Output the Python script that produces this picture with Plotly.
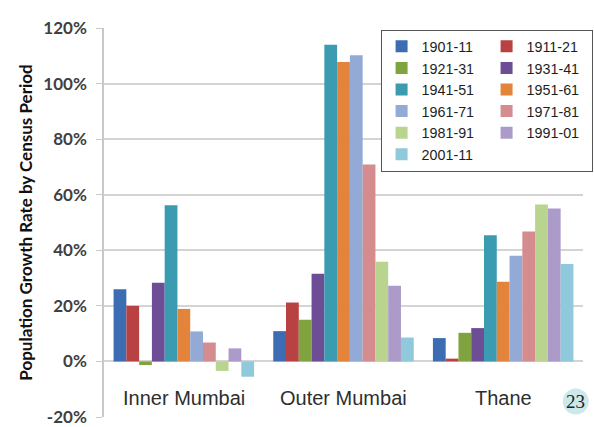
import plotly.graph_objects as go

# Census periods and regions
periods = ["1901-11", "1911-21", "1921-31", "1931-41", "1941-51", "1951-61",
           "1961-71", "1971-81", "1981-91", "1991-01", "2001-11"]
regions = ["Inner Mumbai", "Outer Mumbai", "Thane"]

# Growth rate (%) per period, one list per region
inner_mumbai = [26.0, 20.0, -1.3, 28.3, 56.2, 18.9, 10.8, 6.8, -3.4, 4.7, -5.5]
outer_mumbai = [10.9, 21.2, 15.0, 31.6, 114.0, 107.8, 110.2, 70.9, 35.9, 27.2, 8.6]
thane = [8.4, 1.0, 10.3, 12.0, 45.4, 28.7, 38.0, 46.8, 56.5, 55.0, 35.1]

y_ticks = [-20, 0, 20, 40, 60, 80, 100, 120]
y_tick_labels = [f"{v}%" for v in y_ticks]

colors = ["#3C6DB3", "#B84241", "#7FA43F", "#6D4E96", "#3A9BB1", "#E3843A",
          "#93A9D6", "#D48C8E", "#B9D48F", "#AC9BC9", "#8FC9DB"]

fig = go.Figure()
for i, p in enumerate(periods):
    fig.add_trace(go.Bar(
        name=p,
        x=regions,
        y=[inner_mumbai[i], outer_mumbai[i], thane[i]],
        marker=dict(color=colors[i], line=dict(width=0)),
    ))

label_font = dict(family="Liberation Sans, Arial", size=20, color="#2E2E2E")
annotations = [
    dict(x=r, y=-13.2, xref="x", yref="y", text=r, showarrow=False,
         font=label_font, xanchor="center", yanchor="middle")
    for r in regions
]

# slide number badge in the lower right corner
badge_x, badge_y = 0.985, 0.04
annotations.append(dict(x=badge_x, y=badge_y, xref="paper", yref="paper", text="23",
                        showarrow=False, xanchor="center", yanchor="middle",
                        font=dict(family="Liberation Serif", size=19, color="#222222")))
shapes = [dict(type="circle", xref="paper", yref="paper",
               xsizemode="pixel", ysizemode="pixel",
               xanchor=badge_x, yanchor=badge_y, x0=-13, x1=13, y0=-13, y1=13,
               fillcolor="#CDE8EA", line=dict(width=0), layer="above")]

fig.update_layout(
    width=594, height=427,
    margin=dict(l=104, r=11, t=28, b=10, autoexpand=False),
    paper_bgcolor="white", plot_bgcolor="white",
    barmode="group", bargap=0.12, bargroupgap=0,
    showlegend=True,
    legend=dict(
        orientation="h", x=1.02, y=0.996, xanchor="right", yanchor="top",
        xref="paper", yref="paper",
        entrywidth=60, bgcolor="white", bordercolor="#555555", borderwidth=1,
        font=dict(family="Liberation Sans, Arial", size=14.3, color="#1E1E1E"),
        traceorder="normal", itemwidth=30, tracegroupgap=0,
    ),
    xaxis=dict(showticklabels=False, showgrid=False, showline=False, zeroline=False, ticks=""),
    yaxis=dict(
        range=[-20, 120], tickvals=y_ticks, ticktext=y_tick_labels,
        showgrid=True, gridcolor="#D4D4D4", gridwidth=1.5,
        zeroline=False, showline=True, linecolor="#C8C8C8", linewidth=1.5,
        ticks="outside", ticklen=6, tickcolor="#C8C8C8", ticklabelstandoff=6,
        tickfont=dict(family="Lato", size=17, color="#404040", weight="bold"),
        title=dict(text="<b>Population Growth Rate by Census Period</b>",
                   font=dict(family="Lato", size=17, color="#111111"), standoff=6),
    ),
    annotations=annotations,
    shapes=shapes,
)
fig.write_html("out.html")
